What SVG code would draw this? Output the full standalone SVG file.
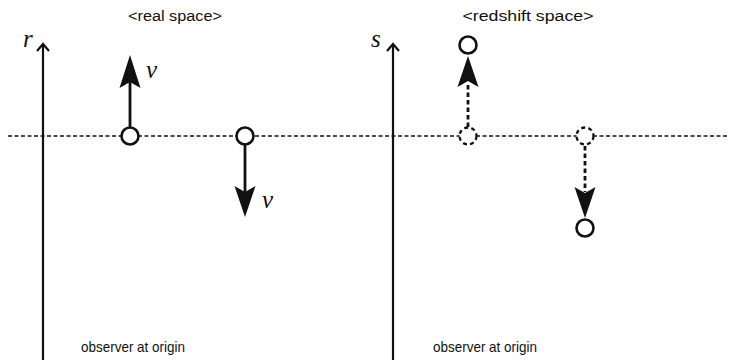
<svg xmlns="http://www.w3.org/2000/svg" width="729" height="360" viewBox="0 0 729 360">
<defs>
<style>
.lbl{font-family:"Liberation Sans","DejaVu Sans",sans-serif;font-size:15.5px;fill:#111;text-anchor:middle}
.lbl2{font-family:"Liberation Sans","DejaVu Sans",sans-serif;font-size:15px;fill:#111;text-anchor:middle}
.math{font-family:"Liberation Serif","DejaVu Serif",serif;font-style:italic;fill:#111}
.axis{stroke:#111;stroke-width:2.2;fill:none}
.ref{stroke:#111;stroke-width:1.4;stroke-dasharray:4 2.5;fill:none}
.solid{stroke:#111;stroke-width:2.8;fill:none}
.dash{stroke:#111;stroke-width:2.8;stroke-dasharray:4.5 3;fill:none}
.pt{stroke:#111;stroke-width:2.6;fill:#fff}
.ptd{stroke:#111;stroke-width:2.3;stroke-dasharray:4 3.2;fill:#fff}
.head{fill:#111;stroke:none}
</style>
</defs>
<rect width="729" height="360" fill="#fff"/>

<text class="lbl" x="175" y="21" textLength="94" lengthAdjust="spacingAndGlyphs">&lt;real space&gt;</text>
<text class="lbl" x="528" y="21" textLength="131" lengthAdjust="spacingAndGlyphs">&lt;redshift space&gt;</text>
<text class="lbl2" x="133" y="352" textLength="104" lengthAdjust="spacingAndGlyphs">observer at origin</text>
<text class="lbl2" x="485" y="352" textLength="104" lengthAdjust="spacingAndGlyphs">observer at origin</text>

<line class="ref" x1="8" y1="136" x2="729" y2="136"/>

<g id="axis-r">
<line class="axis" x1="43" y1="44" x2="43" y2="360"/>
<polyline class="axis" points="37,51 43,44 49,51"/>
<text class="math" x="23" y="47" font-size="25">r</text>
</g>
<g id="axis-s">
<line class="axis" x1="393" y1="44" x2="393" y2="360"/>
<polyline class="axis" points="387,51 393,44 399,51"/>
<text class="math" x="371" y="47" font-size="25">s</text>
</g>

<g id="connectors">
<line class="solid" x1="130" y1="127" x2="130" y2="82"/>
<polygon class="head" points="130,55 140.5,88 130,82 119.5,88"/>
<text class="math" x="146" y="78" font-size="25">v</text>
<line class="solid" x1="245" y1="145" x2="245" y2="192"/>
<polygon class="head" points="245,217 234.5,186 245,192 255.5,186"/>
<text class="math" x="262" y="208" font-size="25">v</text>
<line class="dash" x1="468" y1="127" x2="468" y2="83"/>
<polygon class="head" points="468,56 478.5,87 468,81 457.5,87"/>
<line class="dash" x1="585" y1="146" x2="585" y2="192"/>
<polygon class="head" points="585,218 574.5,187 585,193 595.5,187"/>
</g>

<g id="real-up"><circle class="pt" cx="130" cy="136" r="8.5"/></g>
<g id="real-down"><circle class="pt" cx="245" cy="136" r="8.5"/></g>
<g id="z-up-orig"><circle class="ptd" cx="468" cy="136" r="8.5"/></g>
<g id="z-up"><circle class="pt" cx="468" cy="45" r="8.5"/></g>
<g id="z-down-orig"><circle class="ptd" cx="585" cy="136" r="8.5"/></g>
<g id="z-down"><circle class="pt" cx="585" cy="228" r="8.5"/></g>
</svg>
